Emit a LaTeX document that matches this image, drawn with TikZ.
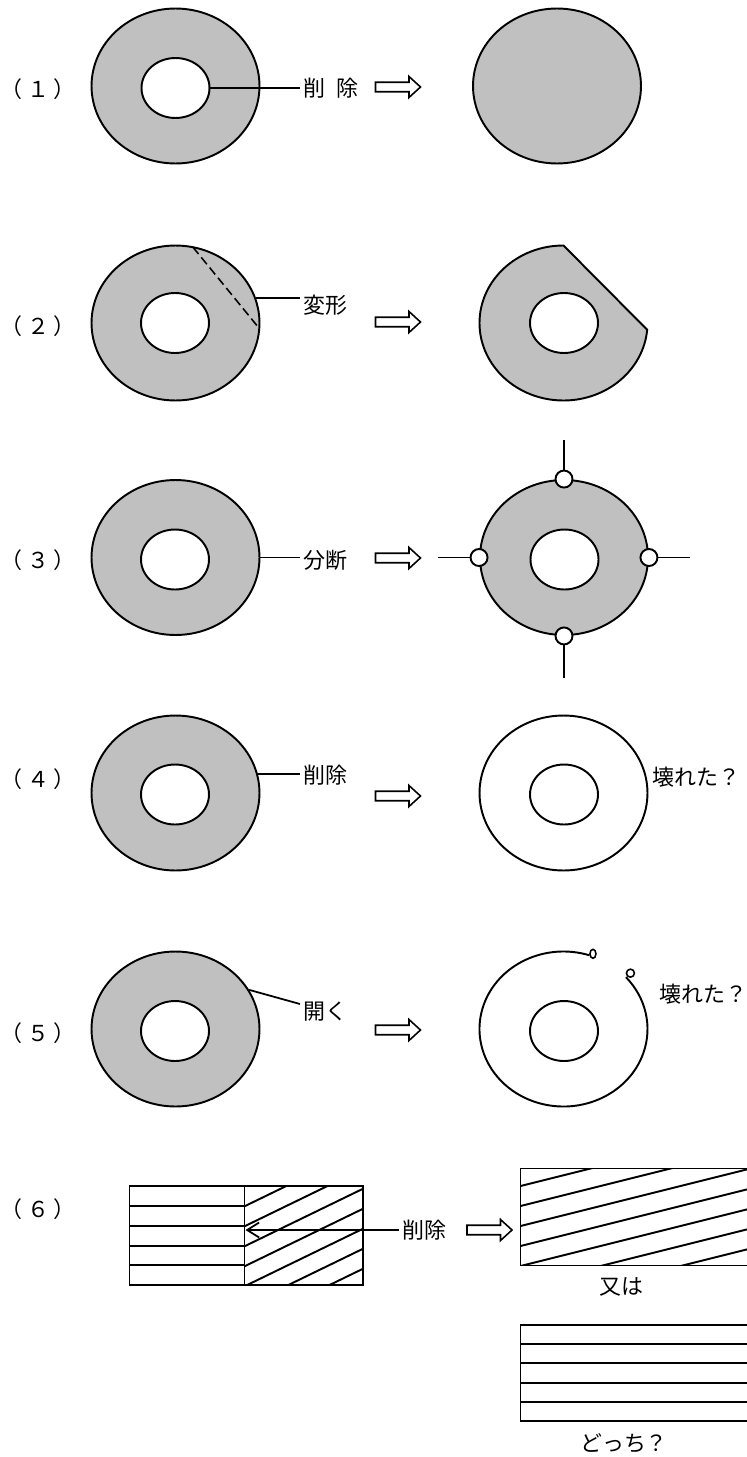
\documentclass[tikz,border=0pt]{standalone}
\usepackage{fontspec}
\setmainfont{Noto Sans CJK JP}
\usetikzlibrary{shapes.geometric,arrows.meta}
\definecolor{ringgray}{HTML}{C0C0C0}
% row number with the loose spacing of the figure
\newcommand{\rownum}[1]{（\hspace{0.22em}#1\hspace{0.22em}）}

\begin{document}
\begin{tikzpicture}
	[x=0.02cm, y=0.02cm, line width=1.1pt,
	font=\fontsize{12.5}{15}\selectfont,
	% STYLES
	% the gray ring with its hole
	ring/.style={ellipse, draw, fill=ringgray, inner sep=0pt, minimum width=3.36cm, minimum height=3.1cm},
	% a ring with nothing left inside
	bare/.style={ellipse, draw, inner sep=0pt, minimum width=3.36cm, minimum height=3.1cm},
	% the hole
	hole/.style={ellipse, draw, fill=white, inner sep=0pt, minimum width=1.36cm, minimum height=1.2cm},
	% small knots where the ring is cut
	knot/.style={circle, draw, fill=white, inner sep=0pt, minimum size=0.34cm},
	% words at the end of a leader
	tag/.style={inner sep=0.06cm, anchor=west},
	% the hollow arrow between the two columns
	fat arrow/.pic={\draw[line width=0.9pt] (-22.5,-4.75) -- (11,-4.75) -- (11,-10.5) -- (22.5,0) -- (11,10.5) -- (11,4.75) -- (-22.5,4.75) -- cycle;}]

	\useasboundingbox (0,0) rectangle (747,-1457);

	%%%%%%%%%%%%%%%
	% (1) remove the hole
	\node (l1) at (38,-89) {\rownum{１}};
	\node [ring] (d1) at (175.5,-86) {};
	\node [hole] (h1) at (175.5,-88) {};
	\node [tag] (t1) at (300,-88) {削\hspace{0.5em}除};
	\draw[line width=1pt] (h1.east) -- (h1.east -| t1.west);
	\pic at (398,-87) {fat arrow};
	\node [ring] (e1) at (557,-86) {};

	%%%%%%%%%%%%%%%
	% (2) deform
	\node (l2) at (38,-326) {\rownum{２}};
	\node [ring] (d2) at (175.5,-323) {};
	\node [hole] (h2) at (175,-323) {};
	\draw[line width=0.9pt, dash pattern=on 5pt off 2.5pt] ([shift={(78:84 and 77.5)}]d2.center) -- ([shift={(-4:84 and 77.5)}]d2.center);
	\node [tag] (t2) at (300,-305) {変形};
	\draw[line width=1pt] (d2.17) -- (d2.17 -| t2.west);
	\pic at (398,-322) {fat arrow};
	\coordinate (e2) at (563.5,-323);
	\draw[fill=ringgray] (e2) ++(90:84 and 77.5) arc[start angle=90, end angle=355, x radius=84, y radius=77.5] -- cycle;
	\node [hole] (g2) at (564,-323) {};

	%%%%%%%%%%%%%%%
	% (3) cut apart
	\node (l3) at (38,-560) {\rownum{３}};
	\node [ring] (d3) at (175.5,-557.5) {};
	\node [hole] (h3) at (175,-559.5) {};
	\node [tag] (t3) at (300,-560) {分断};
	\draw[line width=1pt] (d3.east) -- (d3.east -| t3.west);
	\pic at (398,-558) {fat arrow};
	\node [ring] (e3) at (564,-557.5) {};
	\node [hole] (g3) at (564.5,-559.5) {};
	\foreach \side/\dx/\dy in {north/0/30, south/0/-33, east/32/0, west/-32/0} {
		\node [knot] (k3\side) at (e3.\side) {};
		\draw[line width=1pt] (k3\side.\side) -- ++(\dx,\dy);
	}

	%%%%%%%%%%%%%%%
	% (4) remove the body
	\node (l4) at (38,-779) {\rownum{４}};
	\node [ring] (d4) at (175.5,-793) {};
	\node [hole] (h4) at (175,-794.5) {};
	\node [tag] (t4) at (300,-775) {削除};
	\draw[line width=1pt] (d4.13) -- (d4.13 -| t4.west);
	\pic at (398,-796) {fat arrow};
	\node [bare] (e4) at (563.5,-793) {};
	\node [hole] (g4) at (564,-794.5) {};
	\node [tag] (b4) at (649,-777) {壊れた？};

	%%%%%%%%%%%%%%%
	% (5) open up
	\node (l5) at (38,-1033) {\rownum{５}};
	\node [ring] (d5) at (175.5,-1029) {};
	\node [hole] (h5) at (175,-1031) {};
	\node [tag] (t5) at (300,-1012) {開く};
	\draw[line width=1pt] (d5.28) -- ([yshift=0.16cm]t5.west);
	\pic at (398,-1030) {fat arrow};
	\coordinate (e5) at (563.5,-1029);
	\draw (e5) ++(72:84 and 77.5) coordinate (o5a) arc[start angle=72, end angle=402, x radius=84, y radius=77.5] coordinate (o5b);
	\draw[fill=white, line width=0.9pt] ([shift={(3.5,1.5)}]o5a) ellipse[x radius=3, y radius=4.5];
	\draw[fill=white, line width=0.9pt] ([shift={(4.5,4)}]o5b) circle[radius=4];
	\node [hole] (g5) at (564,-1031) {};
	\node [tag] (b5) at (656,-994) {壊れた？};

	%%%%%%%%%%%%%%%
	% (6) layers and hatching
	\node (l6) at (38,-1209) {\rownum{６}};
	\draw (129.5,-1186.3) rectangle (363,-1285);
	\draw (244.5,-1186.3) -- (244.5,-1285);
	\foreach \k in {1,...,4}
		\draw (129.5,{-1186.3-19.74*\k}) -- (244.5,{-1186.3-19.74*\k});
	\begin{scope}
		\clip (244.5,-1186.3) rectangle (363,-1285);
		\foreach \k in {1,...,7}
			\draw (244.5,{-1186.3-20*\k}) -- ++(140,68);
	\end{scope}
	\coordinate (cut) at (245.5,-1230);
	\node [tag] (t6) at (399,-1230) {削除};
	\draw[line width=1pt, -{Straight Barb[length=0.24cm, width=0.3cm]}] (t6.west) -- (cut);
	\pic at (489.5,-1230) {fat arrow};

	% either the hatching survives ...
	\draw (748,-1168.5) -- (520.5,-1168.5) -- (520.5,-1265.5) -- (748,-1265.5);
	\begin{scope}
		\clip (520.5,-1168.5) rectangle (748,-1265.5);
		\foreach \j in {-2,...,4}
			\draw (520.5,{-1266+20*(\j)}) -- ++(240,60);
	\end{scope}
	\node (or6) at (621.5,-1287) {又は};

	% ... or the layers do
	\draw (748,-1325) -- (520.5,-1325) -- (520.5,-1421) -- (748,-1421);
	\foreach \k in {1,...,4}
		\draw (520.5,{-1325-19.2*\k}) -- (748,{-1325-19.2*\k});
	\node (q6) at (624,-1443) {どっち？};
\end{tikzpicture}
\end{document}
